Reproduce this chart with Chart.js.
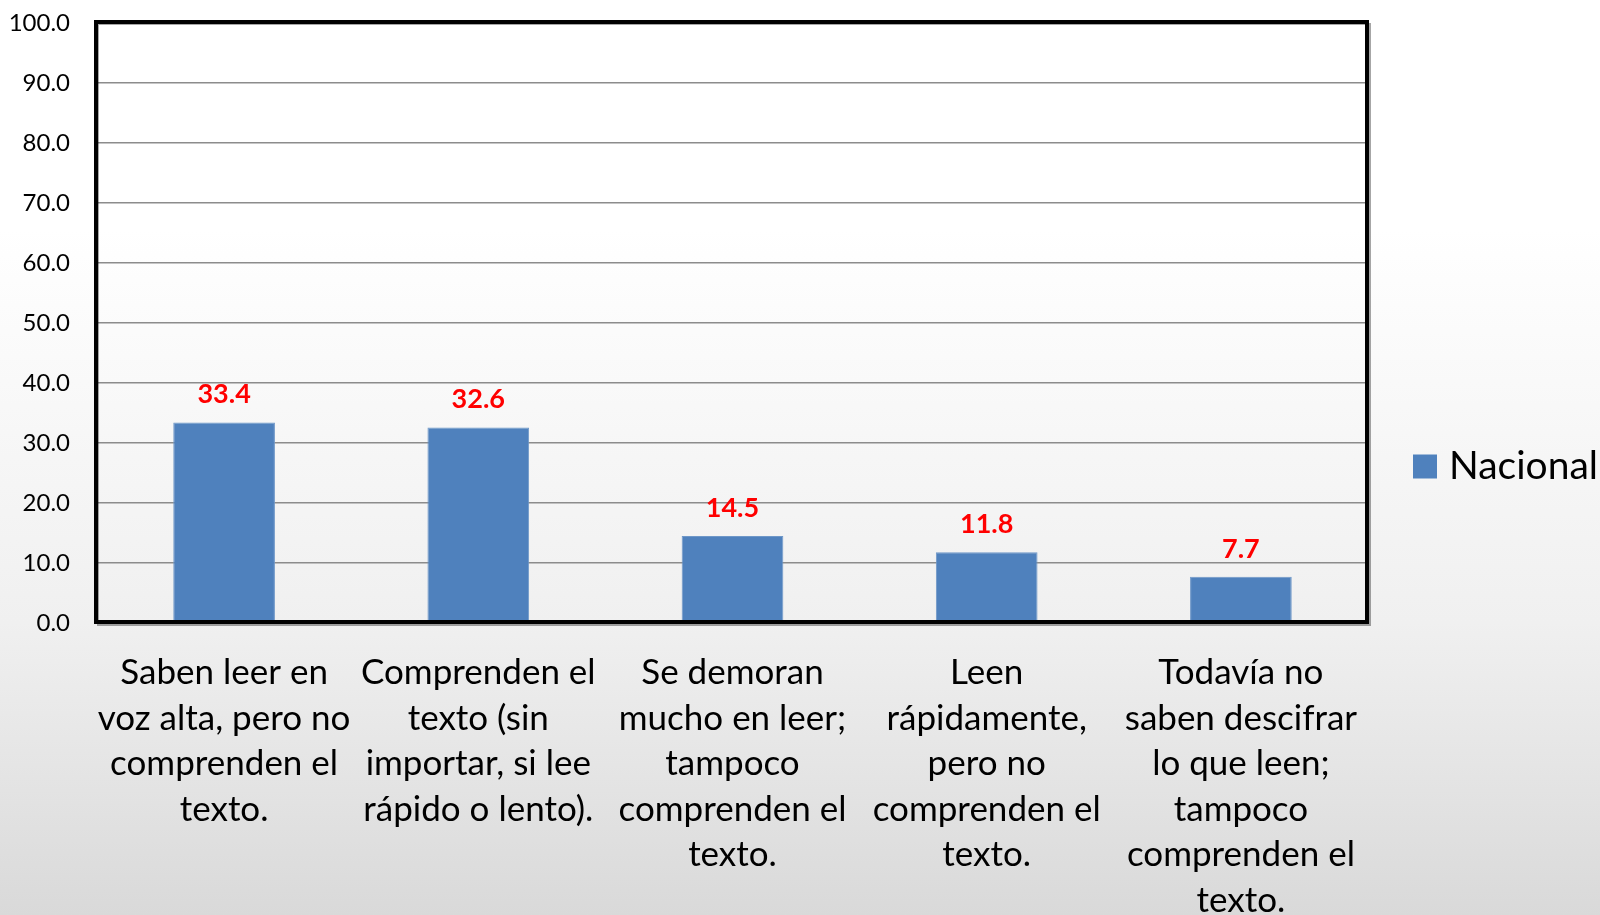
<!DOCTYPE html>
<html>
<head>
<meta charset="utf-8">
<script src="https://cdn.jsdelivr.net/npm/chart.js@4.4.1/dist/chart.umd.min.js"></script>
<style>
  html, body {
    margin: 0;
    padding: 0;
  }
  body {
    width: 1600px;
    height: 915px;
    overflow: hidden;
    background: linear-gradient(to bottom, #ffffff 0%, #ffffff 25%, #f6f6f6 50%, #f0f0f0 68%, #e4e4e4 85%, #d9d9d9 100%);
  }
  #wrap {
    position: relative;
    width: 1600px;
    height: 915px;
  }
</style>
</head>
<body>
<div id="wrap"><canvas id="barChart_lectura"></canvas></div>
<script>
// categorias (ya cortadas en lineas como en la lamina)
var categorias = [
  ["Saben leer en", "voz alta, pero no", "comprenden el", "texto."],
  ["Comprenden el", "texto (sin", "importar, si lee", "rápido o lento)."],
  ["Se demoran", "mucho en leer;", "tampoco", "comprenden el", "texto."],
  ["Leen", "rápidamente,", "pero no", "comprenden el", "texto."],
  ["Todavía no", "saben descifrar", "lo que leen;", "tampoco", "comprenden el", "texto."]
];
var nacional = [33.4, 32.6, 14.5, 11.8, 7.7];
var serieNombre = "Nacional";
var yTicks = [0, 10, 20, 30, 40, 50, 60, 70, 80, 90, 100];

var azul = "#4f81bd";
var fuente = "Lato, 'Open Sans', sans-serif";

Chart.defaults.color = "#000";
Chart.defaults.font.family = fuente;

// marco negro del area del grafico + etiquetas rojas + leyenda
var extras = {
  id: "extras",
  afterDatasetsDraw: function (chart) {
    var ctx = chart.ctx;
    var a = chart.chartArea;

    // valores en rojo encima de cada barra
    var meta = chart.getDatasetMeta(0);
    ctx.save();
    ctx.fillStyle = "#ff0000";
    ctx.font = "bold 27px " + fuente;
    ctx.textAlign = "center";
    ctx.textBaseline = "middle";
    meta.data.forEach(function (bar, i) {
      ctx.fillText(chart.data.datasets[0].data[i].toFixed(1), bar.x, bar.y - 28);
    });
    ctx.restore();

    // marco
    ctx.save();
    ctx.strokeStyle = "rgba(0,0,0,0.35)";
    ctx.lineWidth = 2;
    ctx.strokeRect(a.left + 1, a.top + 1, a.right - a.left + 1, a.bottom - a.top + 1);
    ctx.strokeStyle = "#000";
    ctx.lineWidth = 4;
    ctx.strokeRect(a.left - 1, a.top - 1, a.right - a.left, a.bottom - a.top);
    ctx.restore();

    // leyenda a la derecha
    var ds = chart.data.datasets[0];
    var ly = (chart.height / 2) + 9;
    var lx = a.right + 45;
    ctx.save();
    ctx.fillStyle = ds.backgroundColor;
    ctx.fillRect(lx, ly - 12, 24, 24);
    ctx.fillStyle = "#000";
    ctx.font = "39px " + fuente;
    ctx.textAlign = "left";
    ctx.textBaseline = "middle";
    ctx.fillText(ds.label, lx + 36, ly);
    ctx.restore();
  }
};

var ctx = document.getElementById("barChart_lectura").getContext("2d");
var barChart = new Chart(ctx, {
  type: "bar",
  data: {
    labels: categorias,
    datasets: [{
      label: serieNombre,
      data: nacional,
      backgroundColor: azul,
      borderColor: "#6e97c8",
      borderWidth: 1,
      barPercentage: 0.4,
      categoryPercentage: 1
    }]
  },
  options: {
    responsive: true,
    maintainAspectRatio: false,
    animation: false,
    layout: {
      padding: { top: 23, right: 232, bottom: 0, left: 0 }
    },
    plugins: {
      legend: { display: false },
      tooltip: { enabled: false }
    },
    scales: {
      x: {
        grid: { display: false, drawTicks: false },
        border: { display: false },
        ticks: {
          autoSkip: false,
          maxRotation: 0,
          minRotation: 0,
          padding: 27,
          color: "#000",
          font: { size: 35, lineHeight: 1.3 }
        },
        afterFit: function (scale) {
          scale.height = 292;
          scale.paddingLeft = 0;
          scale.paddingRight = 0;
        }
      },
      y: {
        min: 0,
        max: 100,
        afterBuildTicks: function (scale) {
          scale.ticks = yTicks.map(function (v) { return { value: v }; });
        },
        grid: {
          color: "#8c8c8c",
          lineWidth: 1.5,
          drawTicks: false
        },
        border: { display: false },
        ticks: {
          padding: 27,
          color: "#000",
          font: { size: 24 },
          callback: function (v) { return Number(v).toFixed(1); }
        },
        afterFit: function (scale) {
          scale.width = 97;
          scale.paddingTop = 0;
          scale.paddingBottom = 0;
        }
      }
    }
  },
  plugins: [extras]
});
</script>
</body>
</html>
